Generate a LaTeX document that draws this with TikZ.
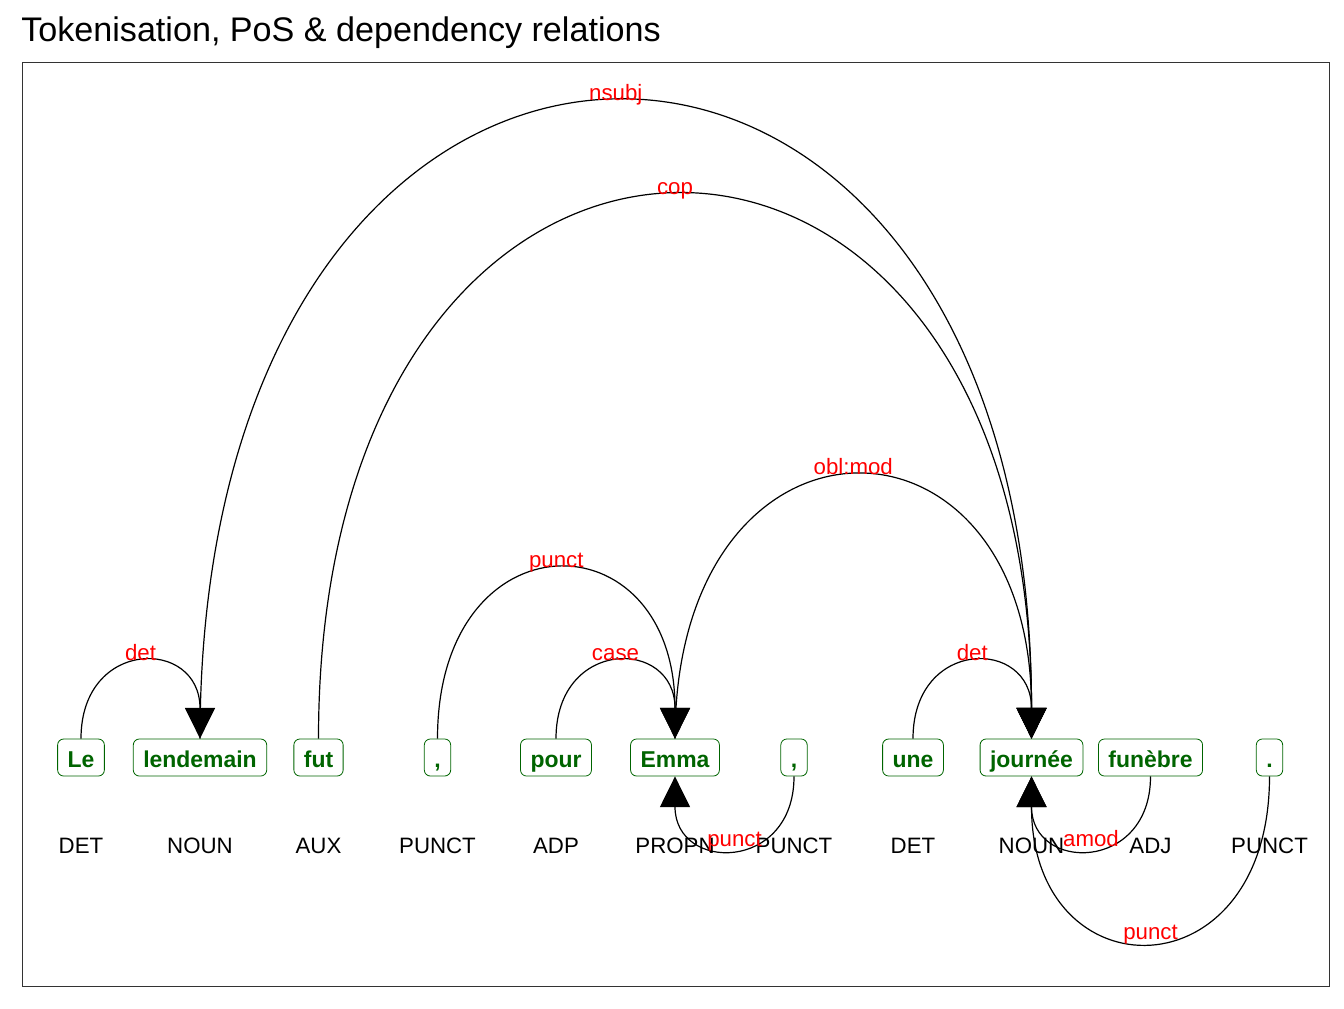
\documentclass[tikz,border=0pt]{standalone}
\usepackage{fontspec}
\setmainfont{Liberation Sans}
\usetikzlibrary{arrows.meta}
\definecolor{tokgreen}{RGB}{0,100,0}
\definecolor{framegray}{RGB}{51,51,51}

\begin{document}
\begin{tikzpicture}[x=0.75pt,y=-0.75pt]
	\tikzstyle{every node}=[font=\fontsize{16.7}{20}\selectfont]
	\tikzstyle{tok}=[draw=tokgreen, text=tokgreen, font=\fontsize{17.2}{20}\selectfont\bfseries, rounded corners=4.5pt, line width=0.6pt, inner xsep=7.5pt, inner ysep=3pt, text height=18pt, text depth=3.75pt]
	\tikzstyle{tag}=[anchor=base, inner sep=0pt]
	\tikzstyle{rel}=[anchor=base, text=red, inner sep=0pt, yshift=1.5pt]
	\tikzstyle{arc}=[line width=0.9pt, -{Triangle[length=23pt,width=22.5pt]}]
	\useasboundingbox (0,0) rectangle (1344,1008);
	\draw (21,41) node (title) [anchor=base west, inner sep=0pt, font=\fontsize{25.6}{30}\selectfont] {Tokenisation, PoS \& dependency relations};
	\draw [framegray, line width=0.75pt] (22,62) rectangle (1329,986);
	% tokens
	\draw (81,757.5) node (t1) [tok] {Le};
	\draw (200,757.5) node (t2) [tok] {lendemain};
	\draw (318.5,757.5) node (t3) [tok] {fut};
	\draw (437.5,757.5) node (t4) [tok] {,};
	\draw (556,757.5) node (t5) [tok] {pour};
	\draw (675,757.5) node (t6) [tok] {Emma};
	\draw (794,757.5) node (t7) [tok] {,};
	\draw (913,757.5) node (t8) [tok] {une};
	\draw (1031.5,757.5) node (t9) [tok] {journée};
	\draw (1150.5,757.5) node (t10) [tok] {funèbre};
	\draw (1269.5,757.5) node (t11) [tok] {.};
	% part of speech
	\draw (81,853) node (p1) [tag] {DET};
	\draw (200,853) node (p2) [tag] {NOUN};
	\draw (318.5,853) node (p3) [tag] {AUX};
	\draw (437.5,853) node (p4) [tag] {PUNCT};
	\draw (556,853) node (p5) [tag] {ADP};
	\draw (675,853) node (p6) [tag] {PROPN};
	\draw (794,853) node (p7) [tag] {PUNCT};
	\draw (913,853) node (p8) [tag] {DET};
	\draw (1031.5,853) node (p9) [tag] {NOUN};
	\draw (1150.5,853) node (p10) [tag] {ADJ};
	\draw (1269.5,853) node (p11) [tag] {PUNCT};
	% relations above
	\draw [arc] (t1.north) .. controls +(0,-101) and +(0,-101) .. (t2.north) node [rel,pos=.5] {det};
	\draw [arc] (t2.north) .. controls +(0,-848) and +(0,-848) .. (t9.north) node [rel,pos=.5] {nsubj};
	\draw [arc] (t3.north) .. controls +(0,-723) and +(0,-723) .. (t9.north) node [rel,pos=.5] {cop};
	\draw [arc] (t4.north) .. controls +(0,-225) and +(0,-225) .. (t6.north) node [rel,pos=.5] {punct};
	\draw [arc] (t5.north) .. controls +(0,-101) and +(0,-101) .. (t6.north) node [rel,pos=.5] {case};
	\draw [arc] (t6.north) .. controls +(0,-349) and +(0,-349) .. (t9.north) node [rel,pos=.5] {obl:mod};
	\draw [arc] (t8.north) .. controls +(0,-101) and +(0,-101) .. (t9.north) node [rel,pos=.5] {det};
	% relations below
	\draw [arc] (t7.south) .. controls +(0,96) and +(0,96) .. (t6.south) node [rel,pos=.5] {punct};
	\draw [arc] (t10.south) .. controls +(0,96) and +(0,96) .. (t9.south) node [rel,pos=.5] {amod};
	\draw [arc] (t11.south) .. controls +(0,220) and +(0,220) .. (t9.south) node [rel,pos=.5] {punct};
\end{tikzpicture}
\end{document}
